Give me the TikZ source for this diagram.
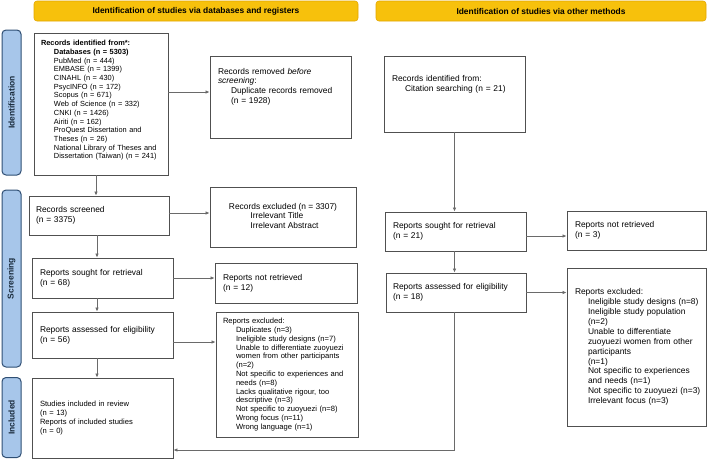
\documentclass[tikz,border=0pt]{standalone}
\usepackage{fontspec}
\setmainfont{Liberation Sans}
\usetikzlibrary{arrows.meta}
\definecolor{hdrfill}{HTML}{F7C10C}
\definecolor{hdrdraw}{HTML}{E3A600}
\definecolor{sidefill}{HTML}{A7C6EA}
\definecolor{sidedraw}{HTML}{2F4F74}
\definecolor{sidetext}{HTML}{1A2B3C}
\definecolor{boxdraw}{HTML}{505050}
\definecolor{arrcol}{HTML}{6A6A6A}
\newcommand\ind[1]{\mbox{\hspace*{13pt}#1}}
\newcommand\padbottom[1]{\par\noindent\rule{0pt}{#1}}
\begin{document}
\begin{tikzpicture}[x=1pt,y=-1pt,
 box/.style={draw=boxdraw, line width=0.9pt, fill=white, align=left,
   font=\fontsize{8.4}{10}\selectfont, inner ysep=2pt, anchor=center},
 small/.style={font=\fontsize{7.5}{8.7}\selectfont},
 hdr/.style={draw=hdrdraw, fill=hdrfill, rounded corners=3pt,
   font=\bfseries\fontsize{8.4}{10}\selectfont, inner sep=0pt, line width=0.6pt},
 side/.style={draw=sidedraw, fill=sidefill, rounded corners=4pt, line width=1pt,
   inner sep=0pt, font=\bfseries\fontsize{8.5}{10}\selectfont, text=sidetext, rotate=90},
 arr/.style={draw=arrcol, line width=0.8pt, -{Latex[length=4pt,width=3.6pt]}}]
\useasboundingbox (0,0) rectangle (709,459);

% headers
\node[hdr, minimum width=324pt, minimum height=20pt] (H1) at (196,11) {Identification of studies via databases and registers};
\node[hdr, minimum width=330pt, minimum height=20pt] (H2) at (541,11) {Identification of studies via other methods};

% side labels
\node[side, minimum width=145pt, minimum height=19pt] (S1) at (11.5,102.5) {Identification};
\node[side, minimum width=177pt, minimum height=19pt] (S2) at (11.5,278.5) {Screening};
\node[side, minimum width=80pt, minimum height=19pt] (S3) at (11.5,417.5) {Included};

% left column
\node[box, small, font=\fontsize{7.4}{8.7}\selectfont, inner xsep=7pt, text width=120pt, minimum width=134pt, minimum height=142pt] (B1) at (101,104) {%
\textbf{Records identified from*:}\\
\ind{\textbf{Databases (n = 5303)}}\\
\ind{PubMed (n = 444)}\\
\ind{EMBASE (n = 1399)}\\
\ind{CINAHL (n = 430)}\\
\ind{PsycINFO (n = 172)}\\
\ind{Scopus (n = 671)}\\
\ind{Web of Science (n = 332)}\\
\ind{CNKI (n = 1426)}\\
\ind{Airiti (n = 162)}\\
\ind{ProQuest Dissertation and}\\
\ind{Theses (n = 26)}\\
\ind{National Library of Theses and}\\
\ind{Dissertation (Taiwan) (n = 241)}\padbottom{6pt}};

\node[box, font=\fontsize{8.4}{9.7}\selectfont, inner xsep=8pt, text width=125pt, minimum width=141pt, minimum height=82pt] (B2) at (280.5,97) {%
Records removed \textit{before}\\
\textit{screening}:\\
\ind{Duplicate records removed}\\
\ind{(n = 1928)}\padbottom{20pt}};

\node[box, inner xsep=7pt, text width=126pt, minimum width=140pt, minimum height=39pt] (B3) at (99,215.5) {Records screened\\(n = 3375)};

\node[box, align=center, font=\fontsize{8.4}{9.6}\selectfont, minimum width=146pt, minimum height=60pt] (B4) at (283,217) {Records excluded (n = 3307)\\
\begin{tabular}{@{\hspace{3pt}}l@{}}Irrelevant Title\\Irrelevant Abstract\end{tabular}};

\node[box, inner xsep=8pt, text width=125pt, minimum width=141pt, minimum height=40pt] (B5) at (102.5,278) {Reports sought for retrieval\\(n = 68)};

\node[box, inner xsep=8pt, text width=126pt, minimum width=142pt, minimum height=40pt] (B6) at (286,283) {Reports not retrieved\\(n = 12)};

\node[box, inner xsep=8pt, text width=125pt, minimum width=141pt, minimum height=46pt] (B7) at (102.5,335) {Reports assessed for eligibility\\(n = 56)};

\node[box, font=\fontsize{7.6}{8.8}\selectfont, inner xsep=7pt, text width=128pt, minimum width=142pt, minimum height=125pt] (B8) at (287,374.5) {%
Reports excluded:\\
\ind{Duplicates (n=3)}\\
\ind{Ineligible study designs (n=7)}\\
\ind{Unable to differentiate zuoyuezi}\\
\ind{women from other participants}\\
\ind{(n=2)}\\
\ind{Not specific to experiences and}\\
\ind{needs (n=8)}\\
\ind{Lacks qualitative rigour, too}\\
\ind{descriptive (n=3)}\\
\ind{Not specific to zuoyuezi (n=8)}\\
\ind{Wrong focus (n=11)}\\
\ind{Wrong language (n=1)}};

\node[box, font=\fontsize{7.6}{8.7}\selectfont, inner xsep=8pt, text width=125pt, minimum width=141pt, minimum height=80pt] (B9) at (102.5,418) {Studies included in review\\(n = 13)\\Reports of included studies\\(n = 0)};

% right column
\node[box, inner xsep=8pt, text width=125pt, minimum width=141pt, minimum height=76pt] (R1) at (454.5,94) {%
Records identified from:\\
\ind{Citation searching (n = 21)}\padbottom{19pt}};

\node[box, inner xsep=8pt, text width=125pt, minimum width=141pt, minimum height=39pt] (R2) at (455.5,231.5) {Reports sought for retrieval\\(n = 21)};

\node[box, inner xsep=8pt, text width=123pt, minimum width=139pt, minimum height=39pt] (R3) at (636.5,230.5) {Reports not retrieved\\(n = 3)};

\node[box, inner xsep=7pt, text width=126pt, minimum width=140pt, minimum height=39pt] (R4) at (456,292.5) {Reports assessed for eligibility\\(n = 18)};

\node[box, inner xsep=8pt, text width=123pt, minimum width=139pt, minimum height=158pt, font=\fontsize{8.4}{9.9}\selectfont] (R5) at (636.5,347) {%
Reports excluded:\\
\ind{Ineligible study designs (n=8)}\\
\ind{Ineligible study population}\\
\ind{(n=2)}\\
\ind{Unable to differentiate}\\
\ind{zuoyuezi women from other}\\
\ind{participants}\\
\ind{(n=1)}\\
\ind{Not specific to experiences}\\
\ind{and needs (n=1)}\\
\ind{Not specific to zuoyuezi (n=3)}\\
\ind{Irrelevant focus (n=3)}};

% connectors left
\draw[arr] ([xshift=-5pt]B1.south) -- ([xshift=-5pt]B1.south |- B3.north);
\draw[arr] (B1.east |- 0,92) -- (B2.west |- 0,92);
\draw[arr] (B3.east |- 0,213) -- (B4.west |- 0,213);
\draw[arr] ([xshift=-2pt]B3.south) -- ([xshift=-2pt]B3.south |- B5.north);
\draw[arr] (B5.east) -- (B5.east -| B6.west);
\draw[arr] ([xshift=-5.5pt]B5.south) -- ([xshift=-5.5pt]B5.south |- B7.north);
\draw[arr] (B7.east |- 0,342) -- (B8.west |- 0,342);
\draw[arr] ([xshift=-5.5pt]B7.south) -- ([xshift=-5.5pt]B7.south |- B9.north);

% connectors right
\draw[arr] (R1.south) -- (R1.south |- R2.north);
\draw[arr] (R2.east |- 0,236) -- (R3.west |- 0,236);
\draw[arr] (R1.south |- R2.south) -- (R1.south |- R4.north);
\draw[arr] (R4.east) -- (R4.east -| R5.west);
\draw[arr] (R1.south |- R4.south) |- (B9.east |- 0,450);
\end{tikzpicture}
\end{document}
